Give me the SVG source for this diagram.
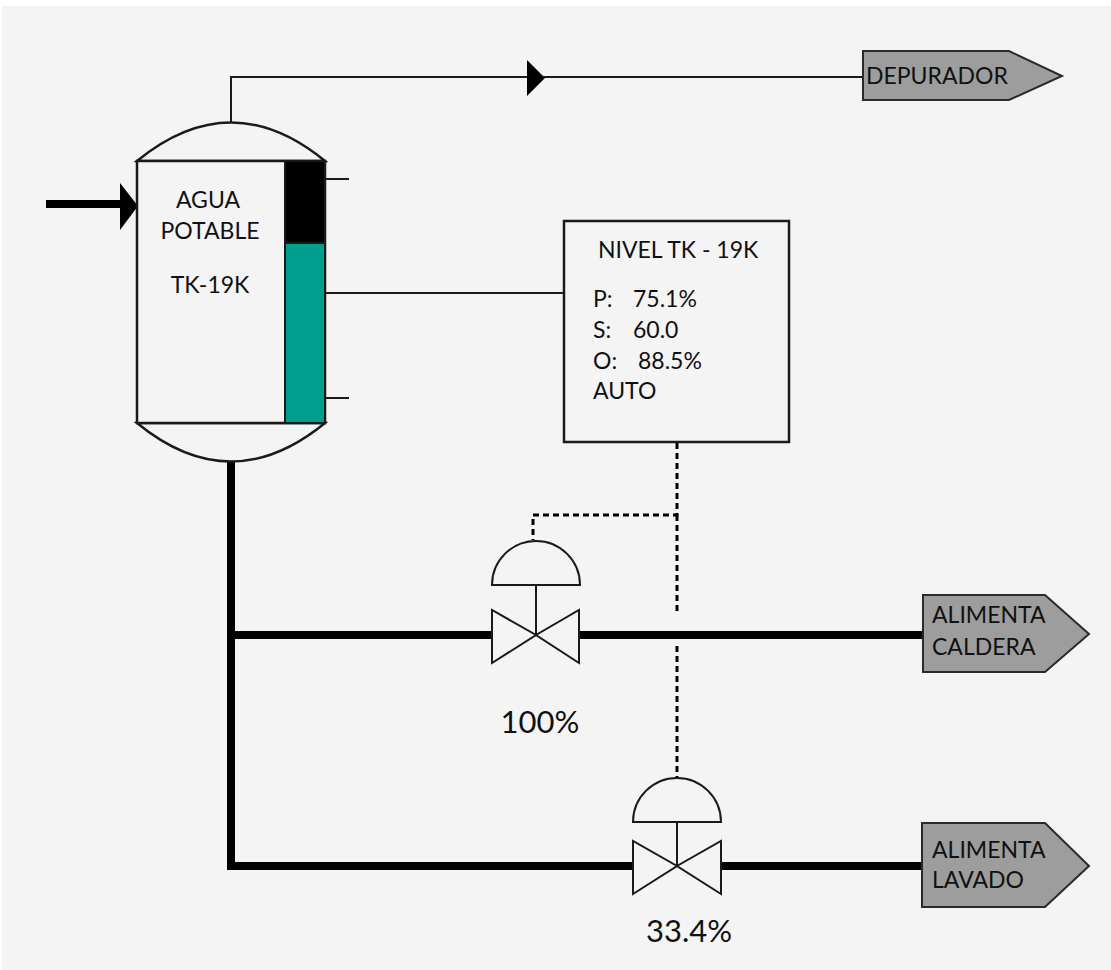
<svg xmlns="http://www.w3.org/2000/svg" width="1111" height="970" viewBox="0 0 1111 970">
<style>
text{font-family:Lato,"Liberation Sans",Arial,sans-serif;fill:#111111}
.t22{font-size:23px}
.t30{font-size:31px}
.thin{fill:none;stroke:#1a1a1a;stroke-width:2}
.pipe{fill:none;stroke:#000;stroke-width:8}
.dot{fill:none;stroke:#000;stroke-width:3;stroke-dasharray:6 4}
.vessel{fill:#f4f4f4;stroke:#1a1a1a;stroke-width:2.5}
.valve{fill:#f4f4f4;stroke:#1a1a1a;stroke-width:2}
.tag{fill:#9d9d9d;stroke:#2a2a2a;stroke-width:2}
</style>
<rect x="0" y="0" width="1111" height="970" fill="#ffffff"/>
<rect x="2" y="6" width="1109" height="964" fill="#f4f4f4"/>

<g id="connectors">
  <path class="thin" d="M231 122 V77 H864"/>
  <polygon points="527,60 527,96 545,78" fill="#000"/>
  <line x1="46" y1="204" x2="122" y2="204" class="pipe"/>
  <polygon points="120,183 120,230 138,206" fill="#000"/>
  <line class="thin" x1="325" y1="179" x2="349" y2="179"/>
  <line class="thin" x1="325" y1="398" x2="349" y2="398"/>
  <line class="thin" x1="325" y1="293" x2="564" y2="293"/>
  <path class="pipe" d="M231 462 V866 H633"/>
  <line class="pipe" x1="231" y1="635" x2="492" y2="635"/>
  <line class="pipe" x1="579" y1="635" x2="923" y2="635"/>
  <line class="pipe" x1="721" y1="866" x2="923" y2="866"/>
  <path class="dot" d="M677 443 V515 H533 V540"/>
  <line class="dot" x1="677" y1="515" x2="677" y2="611"/>
  <line class="dot" x1="677" y1="646" x2="677" y2="777"/>
</g>

<g id="tank">
  <path class="vessel" d="M137 161 Q231 84 325 161 Z"/>
  <path class="vessel" d="M137 423 Q231 500 325 423 Z"/>
  <rect class="vessel" x="137" y="161" width="188" height="262"/>
  <rect x="285" y="161" width="40" height="82" fill="#000" stroke="#1a1a1a" stroke-width="2"/>
  <rect x="285" y="243" width="40" height="180" fill="#009e8d" stroke="#1a1a1a" stroke-width="2"/>
  <text class="t22" x="208" y="208" text-anchor="middle">AGUA</text>
  <text class="t22" x="210" y="239" text-anchor="middle">POTABLE</text>
  <text class="t22" x="210" y="293" text-anchor="middle">TK-19K</text>
</g>

<g id="controller">
  <rect x="564" y="221" width="225" height="221" fill="#f4f4f4" stroke="#1a1a1a" stroke-width="2.5"/>
  <text class="t22" x="598" y="258">NIVEL TK - 19K</text>
  <text class="t22" x="593" y="307">P:</text>
  <text class="t22" x="633" y="307">75.1%</text>
  <text class="t22" x="593" y="338">S:</text>
  <text class="t22" x="633" y="338">60.0</text>
  <text class="t22" x="593" y="369">O:</text>
  <text class="t22" x="638" y="369">88.5%</text>
  <text class="t22" x="593" y="399">AUTO</text>
</g>

<g id="valve1">
  <path class="valve" d="M492 585 A44 44 0 0 1 580 585 Z"/>
  <line class="thin" x1="536" y1="585" x2="536" y2="634"/>
  <polygon class="valve" points="492,610 492,663 536,635"/>
  <polygon class="valve" points="579,610 579,663 536,635"/>
  <text class="t30" x="540" y="733" text-anchor="middle">100%</text>
</g>

<g id="valve2">
  <path class="valve" d="M633 822 A44 44 0 0 1 721 822 Z"/>
  <line class="thin" x1="677" y1="822" x2="677" y2="866"/>
  <polygon class="valve" points="633,841 633,894 677,866"/>
  <polygon class="valve" points="721,841 721,894 677,866"/>
  <text class="t30" x="689" y="942" text-anchor="middle">33.4%</text>
</g>

<g id="depurador">
  <polygon class="tag" points="863,51 1009,51 1062,76 1009,100 863,100"/>
  <text class="t22" x="866" y="84">DEPURADOR</text>
</g>

<g id="alimenta-caldera">
  <polygon class="tag" points="923,595 1045,595 1089,634 1045,672 923,672"/>
  <text class="t22" x="932" y="623">ALIMENTA</text>
  <text class="t22" x="932" y="655">CALDERA</text>
</g>

<g id="alimenta-lavado">
  <polygon class="tag" points="922,823 1045,823 1089,866 1045,907 922,907"/>
  <text class="t22" x="932" y="858">ALIMENTA</text>
  <text class="t22" x="932" y="888">LAVADO</text>
</g>
</svg>
